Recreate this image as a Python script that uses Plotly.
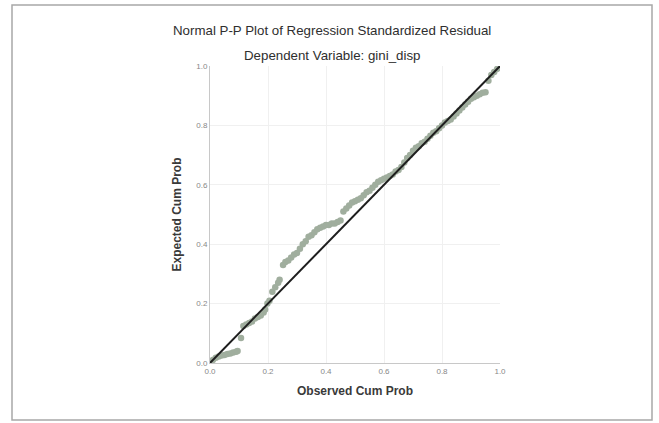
import plotly.graph_objects as go

observed = [0.010, 0.020, 0.030, 0.040, 0.050, 0.060, 0.070, 0.080, 0.090, 0.095,
            0.107, 0.115, 0.125, 0.135, 0.145, 0.155, 0.165, 0.175, 0.185, 0.190,
            0.198, 0.205, 0.215, 0.225, 0.235, 0.240, 0.252, 0.260, 0.270, 0.280,
            0.290, 0.300, 0.310, 0.320, 0.330, 0.340, 0.350, 0.360, 0.370, 0.380,
            0.390, 0.400, 0.410, 0.420, 0.430, 0.440, 0.450, 0.460, 0.470, 0.480,
            0.490, 0.500, 0.510, 0.520, 0.530, 0.540, 0.550, 0.560, 0.570, 0.580,
            0.590, 0.600, 0.610, 0.620, 0.630, 0.640, 0.650, 0.660, 0.670, 0.680,
            0.690, 0.700, 0.710, 0.720, 0.730, 0.740, 0.750, 0.760, 0.770, 0.780,
            0.790, 0.800, 0.810, 0.820, 0.830, 0.840, 0.850, 0.860, 0.870, 0.880,
            0.890, 0.900, 0.910, 0.920, 0.930, 0.940, 0.950, 0.960, 0.970, 0.980,
            0.990]
expected = [0.010, 0.018, 0.022, 0.025, 0.027, 0.030, 0.032, 0.035, 0.038, 0.040,
            0.084, 0.125, 0.130, 0.135, 0.140, 0.150, 0.155, 0.160, 0.170, 0.180,
            0.200, 0.210, 0.240, 0.255, 0.270, 0.280, 0.330, 0.340, 0.345, 0.355,
            0.365, 0.370, 0.385, 0.400, 0.410, 0.425, 0.430, 0.440, 0.450, 0.455,
            0.460, 0.465, 0.465, 0.470, 0.470, 0.475, 0.480, 0.510, 0.520, 0.530,
            0.540, 0.545, 0.550, 0.555, 0.565, 0.575, 0.580, 0.590, 0.600, 0.610,
            0.615, 0.620, 0.625, 0.630, 0.635, 0.645, 0.650, 0.660, 0.675, 0.690,
            0.700, 0.715, 0.725, 0.730, 0.740, 0.745, 0.755, 0.765, 0.775, 0.780,
            0.790, 0.800, 0.810, 0.815, 0.820, 0.830, 0.840, 0.850, 0.860, 0.870,
            0.880, 0.890, 0.895, 0.900, 0.905, 0.910, 0.912, 0.950, 0.970, 0.980,
            0.990]

ref_line = [0.0, 1.0]
tick_vals = [0.0, 0.2, 0.4, 0.6, 0.8, 1.0]
tick_text = ["0.0", "0.2", "0.4", "0.6", "0.8", "1.0"]

fig = go.Figure()
fig.add_trace(go.Scatter(x=observed, y=expected, mode="markers",
                         marker=dict(size=6.5, color="rgb(160,174,158)", line=dict(width=0)),
                         showlegend=False))
fig.add_trace(go.Scatter(x=ref_line, y=ref_line, mode="lines",
                         line=dict(color="#1e1e1e", width=2), showlegend=False))

axis_common = dict(range=[0, 1], tickvals=tick_vals, ticktext=tick_text,
                   showgrid=True, gridcolor="#f0f0f0", gridwidth=1,
                   zeroline=False, showline=True, linecolor="#c8c8c8", linewidth=1,
                   ticks="", tickfont=dict(size=8, color="#888888", family="Liberation Sans"),
                   fixedrange=True)

fig.update_layout(
    width=659, height=423,
    margin=dict(l=210, r=159, t=66, b=60),
    paper_bgcolor="white", plot_bgcolor="white",
    font=dict(family="Liberation Sans", color="#333333"),
    xaxis=dict(**axis_common,
               title=dict(text="<b>Observed Cum Prob</b>", font=dict(size=12, color="#3a3a3a"), standoff=12)),
    yaxis=dict(**axis_common,
               title=dict(text="<b>Expected Cum Prob</b>", font=dict(size=12, color="#3a3a3a"), standoff=12)),
    annotations=[
        dict(text="Normal P-P Plot of Regression Standardized Residual", xref="paper", yref="paper",
             x=(332 - 210) / 290, y=(363 - 31) / 297, xanchor="center", yanchor="middle", showarrow=False,
             font=dict(size=13.3, color="#2e2e2e")),
        dict(text="Dependent Variable: gini_disp", xref="paper", yref="paper",
             x=(332 - 210) / 290, y=(363 - 55) / 297, xanchor="center", yanchor="middle", showarrow=False,
             font=dict(size=13.3, color="#2e2e2e")),
    ],
    shapes=[dict(type="rect", xref="paper", yref="paper",
                 x0=(12 - 210) / 290, x1=(652 - 210) / 290,
                 y0=(363 - 420) / 297, y1=(363 - 5) / 297,
                 line=dict(color="#a8a8a8", width=1.5), fillcolor="rgba(0,0,0,0)", layer="below")],
)

fig.write_html("out.html", config={"displayModeBar": False, "staticPlot": True},
               post_script="document.body.style.margin='0';document.body.style.overflow='hidden';")
